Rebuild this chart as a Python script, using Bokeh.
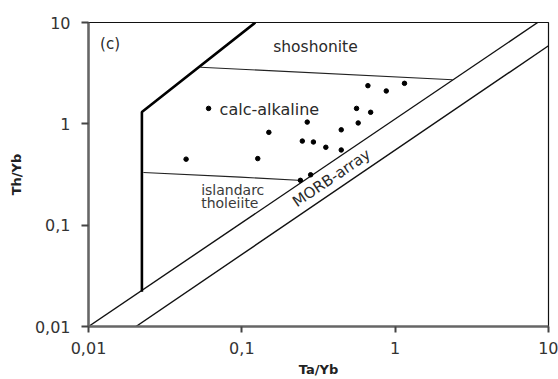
from bokeh.plotting import figure
from bokeh.models import FixedTicker
from bokeh.core.properties import value
from bokeh.embed import file_html
from bokeh.resources import INLINE

# ---- data (Ta/Yb, Th/Yb) ----
sample_ta_yb = [0.0607, 0.150, 0.0433, 0.127, 0.664, 0.875, 1.15, 0.560, 0.692,
                0.267, 0.574, 0.445, 0.248, 0.293, 0.353, 0.445, 0.281, 0.241]
sample_th_yb = [1.42, 0.824, 0.448, 0.454, 2.38, 2.11, 2.51, 1.42, 1.30,
                1.04, 1.02, 0.873, 0.676, 0.662, 0.587, 0.552, 0.314, 0.277]

# field boundaries
morb_upper_x = [0.01, 8.5]
morb_upper_y = [0.01, 10.0]
morb_lower_x = [0.0204, 10.0]
morb_lower_y = [0.01, 5.9]
arc_limit_x = [0.0223, 0.0223, 0.1225]
arc_limit_y = [0.022, 1.31, 10.0]
shosh_x = [0.0536, 2.37]
shosh_y = [3.62, 2.72]
iat_x = [0.0228, 0.0977, 0.249]
iat_y = [0.331, 0.298, 0.276]

tick_values = [0.01, 0.1, 1, 10]
tick_labels = ["0,01", "0,1", "1", "10"]

FONT = "DejaVu Sans"
TXT = "#2a2a2a"

p = figure(width=558, height=379, x_axis_type="log", y_axis_type="log",
           x_range=(0.01, 10), y_range=(0.01, 10),
           output_backend="svg", toolbar_location=None,
           min_border_left=88, min_border_right=10, min_border_top=22,
           min_border_bottom=51)

p.grid.visible = False
p.outline_line_color = "#111111"
p.outline_line_width = 1.2
p.background_fill_color = "white"
p.border_fill_color = "white"

overrides = {v: s for v, s in zip(tick_values, tick_labels)}
for ax in (p.xaxis[0], p.yaxis[0]):
    ax.ticker = FixedTicker(ticks=tick_values, minor_ticks=[])
    ax.major_label_overrides = overrides
    ax.axis_line_color = "#666666"
    ax.axis_line_width = 2.5
    ax.major_tick_line_color = "#444444"
    ax.major_tick_line_width = 2
    ax.major_tick_in = 0
    ax.minor_tick_line_color = None
    ax.major_label_text_font = FONT
    ax.major_label_text_font_size = "16px"
    ax.major_label_text_color = "#333333"
    ax.axis_label_text_font = FONT
    ax.axis_label_text_font_style = "bold"
    ax.axis_label_text_font_size = "13px"
    ax.axis_label_text_color = "#222222"

p.xaxis.axis_label = "Ta/Yb"
p.yaxis.axis_label = "Th/Yb"
p.xaxis.major_tick_out = 6
p.yaxis.major_tick_out = 7
p.xaxis.major_label_standoff = 9
p.yaxis.major_label_standoff = 11
p.xaxis.axis_label_standoff = 5
p.yaxis.axis_label_standoff = 8

# boundaries
p.line(morb_upper_x, morb_upper_y, line_color="#111111", line_width=1.4)
p.line(morb_lower_x, morb_lower_y, line_color="#111111", line_width=1.4)
p.line(arc_limit_x, arc_limit_y, line_color="#000000", line_width=2.6)
p.line(shosh_x, shosh_y, line_color="#222222", line_width=1.1)
p.line(iat_x, iat_y, line_color="#222222", line_width=1.1)

# samples
p.scatter(sample_ta_yb, sample_th_yb, size=4.5, color="#000000")

# labels
p.text(x=[0.01383], y=[6.14], text=["(c)"], text_font=value(FONT), text_font_size="15px",
       text_color=TXT, text_align="center", text_baseline="middle")
p.text(x=[0.302], y=[5.78], text=["shoshonite"], text_font=value(FONT), text_font_size="15.5px",
       text_color=TXT, text_align="center", text_baseline="middle")
p.text(x=[0.0716], y=[1.38], text=["calc-alkaline"], text_font=value(FONT), text_font_size="16px",
       text_color=TXT, text_align="left", text_baseline="middle")
p.text(x=[0.0543], y=[0.220], text=["islandarc"], text_font=value(FONT), text_font_size="14px",
       text_color="#3a3a3a", text_align="left", text_baseline="middle")
p.text(x=[0.0543], y=[0.166], text=["tholeiite"], text_font=value(FONT), text_font_size="14px",
       text_color="#3a3a3a", text_align="left", text_baseline="middle")
p.text(x=[0.385], y=[0.292], text=["MORB-array"], text_font=value(FONT), text_font_size="15px",
       text_color=TXT, text_align="center", text_baseline="middle", angle=0.597)

open("out.html", "w").write(file_html(p, INLINE))
